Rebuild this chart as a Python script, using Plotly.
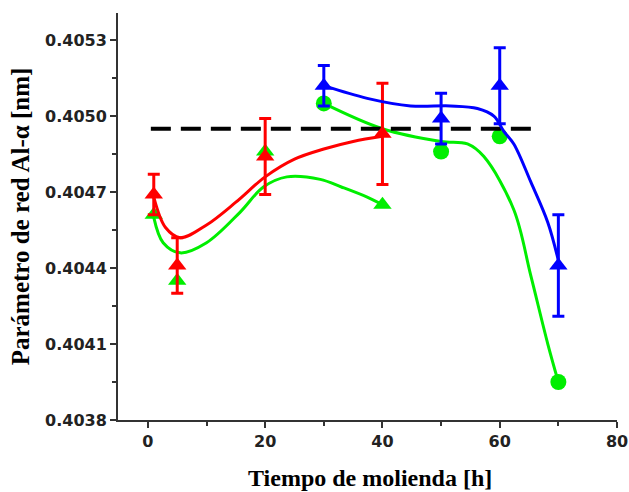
import plotly.graph_objects as go

# --- Data ---
# Red series (triangles with error bars)
red_x = [1, 5, 20, 40]
red_y = [0.40469, 0.40441, 0.40484, 0.40493]
red_err_plus = [0.00008, 0.00011, 0.00015, 0.00020]
red_err_minus = [0.00008, 0.00011, 0.00015, 0.00020]

# Green triangles
green_tri_x = [1, 5, 20, 40]
green_tri_y = [0.40461, 0.40435, 0.40486, 0.40465]

# Green circles
green_circ_x = [30, 50, 60, 70]
green_circ_y = [0.40505, 0.40486, 0.40492, 0.40395]

# Blue series (triangles with error bars)
blue_x = [30, 50, 60, 70]
blue_y = [0.40512, 0.40499, 0.40512, 0.40441]
blue_err = [0.00008, 0.00010, 0.00015, 0.00020]

# Reference (dashed) level
ref_x = [0.5, 66]
ref_y = [0.40495, 0.40495]

# Smoothed fit curves
red_fit_x = [1, 3, 5.5, 10, 15, 20, 25, 30, 35, 40]
red_fit_y = [0.40468, 0.40456, 0.40452, 0.40457, 0.40466, 0.40476, 0.40483, 0.40487, 0.40490, 0.40492]

green_fit1_x = [1, 2.6, 5.5, 10, 15.7, 19.7, 23.7, 29.4, 33, 37.4, 40]
green_fit1_y = [0.40460, 0.40450, 0.40446, 0.40450, 0.40462, 0.40472, 0.40476, 0.40475, 0.40472, 0.40468, 0.40465]

green_fit2_x = [30, 40, 50, 54.5, 57.3, 62.4, 65.3, 68.2, 70]
green_fit2_y = [0.40505, 0.40495, 0.40490, 0.40489, 0.40484, 0.40463, 0.40437, 0.40410, 0.40395]

blue_fit_x = [30, 37.4, 44.8, 51.6, 56.2, 59, 60.7, 62.4, 65.3, 68.2, 70]
blue_fit_y = [0.40512, 0.40507, 0.40504, 0.40504, 0.40503, 0.40500, 0.40494, 0.40489, 0.40474, 0.40458, 0.40443]

y_ticks = [0.4038, 0.4041, 0.4044, 0.4047, 0.4050, 0.4053]
y_tick_text = ["0.4038", "0.4041", "0.4044", "0.4047", "0.4050", "0.4053"]
x_ticks = [0, 20, 40, 60, 80]

x_title = "Tiempo de molienda [h]"
y_title = "Parámetro de red Al-α [nm]"

GREEN = "#00EE00"
RED = "#FF0000"
BLUE = "#0000FF"

fig = go.Figure()

# green fits
fig.add_trace(go.Scatter(x=green_fit1_x, y=green_fit1_y, mode="lines",
                         line=dict(color=GREEN, width=3, shape="spline", smoothing=1.0),
                         hoverinfo="skip", showlegend=False))
fig.add_trace(go.Scatter(x=green_fit2_x, y=green_fit2_y, mode="lines",
                         line=dict(color=GREEN, width=3, shape="spline", smoothing=1.0),
                         hoverinfo="skip", showlegend=False))
fig.add_trace(go.Scatter(x=green_tri_x, y=green_tri_y, mode="markers",
                         marker=dict(symbol="triangle-up", size=16, color=GREEN),
                         showlegend=False))
fig.add_trace(go.Scatter(x=green_circ_x, y=green_circ_y, mode="markers",
                         marker=dict(symbol="circle", size=16, color=GREEN),
                         showlegend=False))

# dashed reference
fig.add_trace(go.Scatter(x=ref_x, y=ref_y, mode="lines",
                         line=dict(color="black", width=4, dash="20px,10px"),
                         hoverinfo="skip", showlegend=False))

# red
fig.add_trace(go.Scatter(x=red_fit_x, y=red_fit_y, mode="lines",
                         line=dict(color=RED, width=3, shape="spline", smoothing=1.0),
                         hoverinfo="skip", showlegend=False))
fig.add_trace(go.Scatter(x=red_x, y=red_y, mode="markers",
                         marker=dict(symbol="triangle-up", size=16, color=RED),
                         error_y=dict(type="data", symmetric=False, array=red_err_plus,
                                      arrayminus=red_err_minus, color=RED, thickness=3, width=6),
                         showlegend=False))

# blue
fig.add_trace(go.Scatter(x=blue_fit_x, y=blue_fit_y, mode="lines",
                         line=dict(color=BLUE, width=3, shape="spline", smoothing=1.0),
                         hoverinfo="skip", showlegend=False))
fig.add_trace(go.Scatter(x=blue_x, y=blue_y, mode="markers",
                         marker=dict(symbol="triangle-up", size=16, color=BLUE),
                         error_y=dict(type="data", array=blue_err, color=BLUE, thickness=3, width=6),
                         showlegend=False))

fig.update_layout(
    width=629, height=492,
    margin=dict(l=118, r=12, t=13, b=72),
    paper_bgcolor="white", plot_bgcolor="white",
    showlegend=False,
    font=dict(family="DejaVu Sans", color="#222222"),
    annotations=[
        dict(text="<b>" + x_title + "</b>", xref="paper", yref="paper",
             x=0.505, y=-0.143, xanchor="center", yanchor="middle", showarrow=False,
             font=dict(family="Liberation Serif", size=24, color="black")),
        dict(text="<b>" + y_title + "</b>", xref="paper", yref="paper",
             x=-0.196, y=0.501, xanchor="center", yanchor="middle", showarrow=False,
             textangle=-90,
             font=dict(family="Liberation Serif", size=25, color="black")),
    ],
)

fig.update_xaxes(
    range=[-5.1, 80], tickvals=x_ticks, showgrid=False, zeroline=False, automargin=False,
    showline=True, linecolor="#333333", linewidth=2,
    ticks="outside", ticklen=6, tickwidth=2, tickcolor="#333333",
    minor=dict(ticks="outside", ticklen=4, tickwidth=2, tickcolor="#333333", dtick=10, tick0=0),
    tickfont=dict(family="DejaVu Sans", size=16, color="#222222", weight="bold"),
)
fig.update_yaxes(
    range=[0.4038, 0.405407], tickvals=y_ticks, ticktext=y_tick_text, showgrid=False,
    zeroline=False, automargin=False,
    showline=True, linecolor="#333333", linewidth=2,
    ticks="outside", ticklen=6, tickwidth=2, tickcolor="#333333",
    minor=dict(ticks="outside", ticklen=4, tickwidth=2, tickcolor="#333333", dtick=0.00015, tick0=0.4038),
    tickfont=dict(family="DejaVu Sans", size=16, color="#222222", weight="bold"),
)

# remove the default page margin so the 629x492 figure fills the window exactly
fig.write_html("out.html", config={"displayModeBar": False},
               post_script="document.body.style.margin='0px';document.body.style.overflow='hidden';")
